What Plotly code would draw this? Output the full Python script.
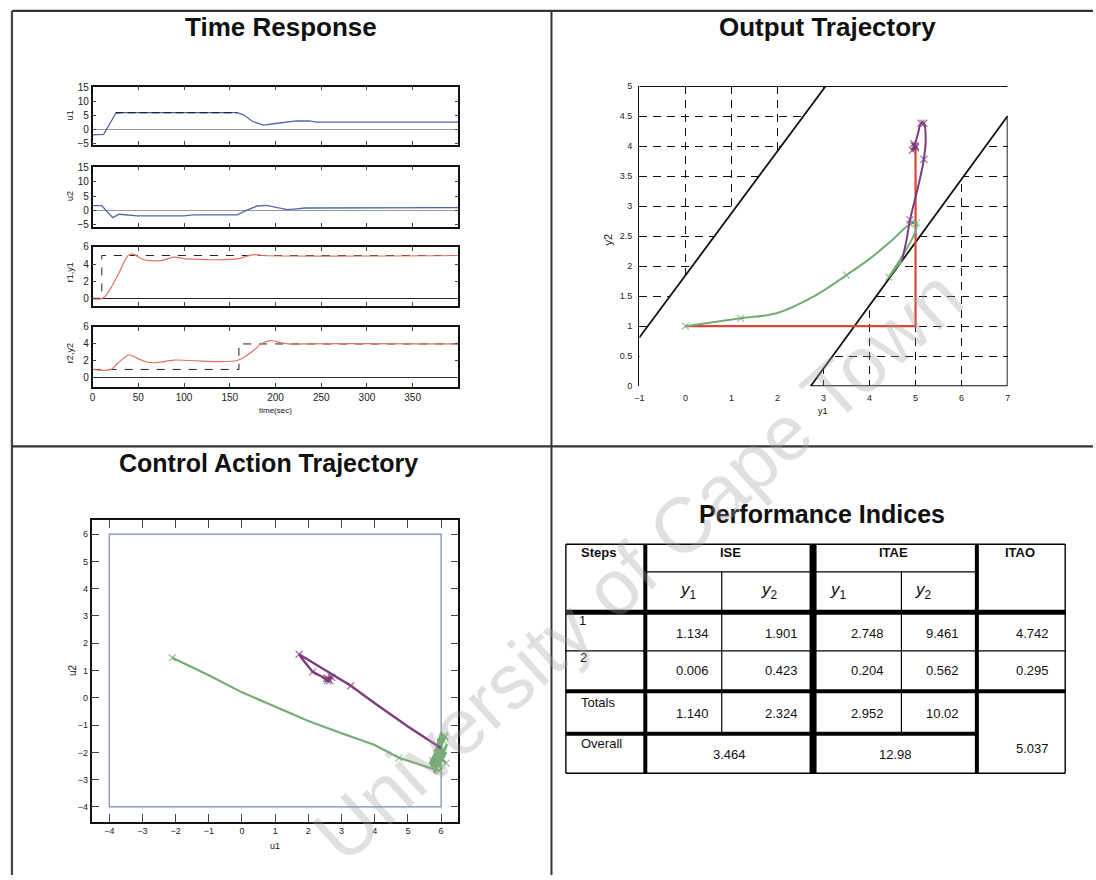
import plotly.graph_objects as go

W, H = 1096, 880
FONT = "Liberation Sans, Arial, sans-serif"


def px(x):
    return x / W


def py(y):
    return 1 - y / H


# ---------------- Time response (step test) ----------------
t_u1 = [0, 10, 12, 25, 30, 158, 165, 175, 187, 200, 212, 223, 237, 245, 400]
u1 = [-2.0, -2.0, -1.8, 5.6, 6.0, 6.0, 5.2, 2.8, 1.5, 2.1, 2.7, 3.0, 3.0, 2.6, 2.6]
t_u1_sat = [25, 158]
u1_sat = [6.0, 6.0]

t_u2 = [0, 10, 22, 29, 49, 100, 110, 158, 170, 180, 190, 204, 213, 223, 232, 400]
u2 = [1.6, 1.6, -2.6, -1.4, -2.0, -2.0, -1.6, -1.6, 0.2, 1.5, 1.7, 0.9, 0.2, 0.5, 0.8, 0.9]

t_y1 = [0, 11, 27, 38, 43, 56, 74, 89, 103, 158, 168, 177, 186, 400]
y1 = [0, 0, 2.6, 4.9, 5.2, 4.5, 4.4, 4.8, 4.6, 4.6, 4.9, 5.1, 5.0, 5.0]
t_r1 = [0, 10, 10, 400]
r1 = [0, 0, 5, 5]

t_y2 = [0, 20, 27, 40, 49, 60, 70, 89, 107, 158, 172, 186, 194, 208, 223, 230, 400]
y2 = [1, 1, 1.7, 2.7, 2.3, 1.85, 1.8, 2.1, 2.05, 2.05, 2.9, 4.1, 4.4, 4.1, 3.95, 4.0, 4.0]
t_r2 = [0, 160, 160, 400]
r2 = [1, 1, 4, 4]

# ---------------- Output trajectory (y1, y2 plane) ----------------
sp_y1 = [0, 5, 5]
sp_y2 = [1, 1, 4]
traj1_y1 = [0, 1.2, 2.0, 2.8, 3.5, 4.0, 4.5, 4.88, 5.02, 5.0, 4.7, 4.42, 4.55, 4.7]
traj1_y2 = [1.0, 1.13, 1.22, 1.5, 1.85, 2.12, 2.44, 2.7, 2.72, 2.58, 2.15, 1.82, 1.95, 2.08]
traj2_y1 = [4.7, 4.8, 4.88, 5.0, 5.1, 5.18, 5.22, 5.18, 5.12, 5.05, 4.97, 4.93, 5.0, 4.96, 5.0]
traj2_y2 = [2.08, 2.42, 2.77, 3.15, 3.47, 3.78, 4.1, 4.38, 4.38, 4.2, 4.0, 3.93, 3.97, 4.04, 4.0]
# output constraint boundaries (None splits the outline into separate strokes)
upper_bound_y1 = [7, -1, None, -1, 3.05]
upper_bound_y2 = [5, 5, None, 0.81, 5]
lower_bound_y1 = [2.72, 7, 7, 2.72]
lower_bound_y2 = [0, 4.5, 0, 0]
feasible_y1 = [-1, 3.05, 7, 7, 2.72, -1, -1]
feasible_y2 = [0.81, 5, 5, 4.5, 0, 0, 0.81]
y_ticks_out = [0, 0.5, 1, 1.5, 2, 2.5, 3, 3.5, 4, 4.5, 5]
y_ticktext_out = ["0", "0.5", "1", "1.5", "2", "2.5", "3", "3.5", "4", "4.5", "5"]

# ---------------- Control action trajectory (u1, u2 plane) ----------------
ctrl1_u1 = [-2.1, -1.0, 0, 1.0, 2.0, 3.0, 4.0, 4.73, 5.4, 5.95, 5.7, 6.0, 6.12, 5.72, 6.18,
            5.8, 6.1, 5.66, 6.16, 5.78, 6.05, 5.7, 6.14, 5.85, 6.02, 5.75, 6.1, 5.9, 6.0, 5.8,
            6.15, 5.95]
ctrl1_u2 = [1.47, 0.83, 0.2, -0.32, -0.85, -1.3, -1.73, -2.2, -2.45, -2.68, -2.45, -1.28, -1.45,
            -2.55, -1.7, -2.78, -1.38, -2.4, -2.0, -2.72, -1.55, -2.6, -1.85, -2.5, -1.32, -2.3,
            -2.15, -1.5, -2.65, -1.9, -2.4, -2.2]
ctrl2_u1 = [6.0, 5.0, 4.0, 3.28, 2.5, 1.95, 1.72, 1.8, 2.13, 2.4, 2.58, 2.7, 2.55, 2.65, 2.6]
ctrl2_u2 = [-1.85, -1.05, -0.2, 0.44, 1.02, 1.42, 1.6, 1.45, 0.95, 0.78, 0.63, 0.75, 0.72, 0.62, 0.7]
u_min, u_max = -4, 6

# ---------------- Performance indices ----------------
steps = ["1", "2", "Totals", "Overall"]
ise_y1 = [1.134, 0.006, 1.140]
ise_y2 = [1.901, 0.423, 2.324]
itae_y1 = [2.748, 0.204, 2.952]
itae_y2 = [9.461, 0.562, 10.02]
itao = [4.742, 0.295]
overall_ise = 3.464
overall_itae = 12.98
overall_itao = 5.037

BLUE = "#4f68a8"
TR_RED = "#e0705f"
RED = "#d9463a"
GREEN = "#74ad74"
PURPLE = "#7d3c7d"

fig = go.Figure()


def line_trace(x, y, color, width=1.2, xa="x", ya="y", dash=None, shape="linear", mode="lines",
               marker=None):
    fig.add_trace(go.Scatter(x=x, y=y, mode=mode, xaxis=xa, yaxis=ya, hoverinfo="skip",
                             line=dict(color=color, width=width, dash=dash, shape=shape),
                             marker=marker, connectgaps=False))


def xmarks(color, n, pick, size=7):
    # cross markers only on selected samples of a path
    sizes = [0] * n
    for i in pick:
        if i < n:
            sizes[i] = size
    return dict(symbol="x-thin", size=sizes, color=color, line=dict(color=color, width=1.3))


# time response traces
line_trace(t_u1, u1, BLUE, 1.3, "x", "y")
line_trace(t_u1_sat, u1_sat, "#1c2440", 1.4, "x", "y", dash="8px,4px")
line_trace(t_u2, u2, BLUE, 1.3, "x2", "y2")
line_trace(t_r1, r1, "#222", 1.0, "x3", "y3", dash="8px,8px")
line_trace(t_y1, y1, TR_RED, 1.2, "x3", "y3", shape="spline")
line_trace(t_r2, r2, "#222", 1.0, "x4", "y4", dash="8px,8px")
line_trace(t_y2, y2, TR_RED, 1.2, "x4", "y4", shape="spline")

# output trajectory: feasible band hides the grid, then boundaries and paths
fig.add_trace(go.Scatter(x=feasible_y1, y=feasible_y2, mode="lines", fill="toself",
                         fillcolor="white", line=dict(width=0), xaxis="x5", yaxis="y5",
                         hoverinfo="skip"))
line_trace(upper_bound_y1, upper_bound_y2, "#111", 1.8, "x5", "y5")
line_trace(lower_bound_y1, lower_bound_y2, "#111", 1.8, "x5", "y5")
line_trace(sp_y1, sp_y2, RED, 2.2, "x5", "y5")
line_trace(traj1_y1, traj1_y2, GREEN, 2.0, "x5", "y5", shape="spline", mode="lines+markers",
           marker=xmarks(GREEN, len(traj1_y1), pick=[0, 1, 4, 7, 8, 11]))
line_trace(traj2_y1, traj2_y2, PURPLE, 2.0, "x5", "y5", shape="spline", mode="lines+markers",
           marker=xmarks(PURPLE, len(traj2_y1), pick=[2, 5, 7, 8, 10, 11, 12, 13, 14]))

# control action trajectory
line_trace([u_min, u_max, u_max, u_min, u_min], [u_min, u_min, u_max, u_max, u_min],
           "#7a88b0", 1.2, "x6", "y6")
line_trace(ctrl1_u1, ctrl1_u2, GREEN, 2.2, "x6", "y6", mode="lines+markers",
           marker=xmarks(GREEN, len(ctrl1_u1), pick=[0, 7, 9, 12, 16, 20, 25, 30]))
line_trace(ctrl2_u1, ctrl2_u2, PURPLE, 2.4, "x6", "y6", mode="lines+markers",
           marker=xmarks(PURPLE, len(ctrl2_u1), pick=[3, 6, 8, 10, 11, 12, 13, 14]))

tick_font = dict(family=FONT, size=10, color="#222")
small_font = dict(family=FONT, size=9, color="#222")

tr_x = [px(88.3), px(456.7)]
tr_rows = [(81.7, 141), (162.7, 223.3), (244, 304), (325, 385.7)]
tr_ranges = [[-5.7, 15.3], [-5.7, 15.3], [-0.92, 6], [-1.05, 6]]
tr_ticks = [[-5, 0, 5, 10, 15], [-5, 0, 5, 10, 15], [0, 2, 4, 6], [0, 2, 4, 6]]
tr_zero = ["#9a9a9a", "#9a9a9a", "#222", "#333"]

layout_axes = {}
for i in range(4):
    sx = "xaxis" if i == 0 else f"xaxis{i + 1}"
    sy = "yaxis" if i == 0 else f"yaxis{i + 1}"
    top, bot = tr_rows[i]
    layout_axes[sx] = dict(domain=tr_x, range=[0, 400], anchor="y" if i == 0 else f"y{i + 1}",
                           tickvals=[0, 50, 100, 150, 200, 250, 300, 350], ticks="inside",
                           ticklen=4, showline=True, mirror="ticks", linecolor="#111",
                           linewidth=1.6, showgrid=False, zeroline=False,
                           showticklabels=(i == 3), tickfont=tick_font)
    layout_axes[sy] = dict(domain=[py(bot), py(top)], range=tr_ranges[i],
                           anchor="x" if i == 0 else f"x{i + 1}", tickvals=tr_ticks[i],
                           ticks="inside", ticklen=4, showline=True, mirror="ticks",
                           linecolor="#111", linewidth=1.6, showgrid=False, zeroline=True,
                           zerolinecolor=tr_zero[i], zerolinewidth=1.1, tickfont=tick_font)

layout_axes["xaxis5"] = dict(domain=[px(639), px(1010)], range=[-1, 7], anchor="y5",
                             tickvals=list(range(-1, 8)), ticks="", showline=False,
                             ticklabelstandoff=5, showgrid=True, gridcolor="#111",
                             gridwidth=1.1, griddash="8px,6px", zeroline=False,
                             tickfont=small_font)
layout_axes["yaxis5"] = dict(domain=[py(385), py(81)], range=[0, 5], anchor="x5",
                             tickvals=y_ticks_out, ticktext=y_ticktext_out, ticks="",
                             showline=True, linecolor="#111", linewidth=1.4, showgrid=True,
                             gridcolor="#111", gridwidth=1.1, griddash="8px,6px",
                             zeroline=False, tickfont=small_font, ticklabelstandoff=4)

layout_axes["xaxis6"] = dict(domain=[px(87.3), px(456.7)], range=[-4.53, 6.52], anchor="y6",
                             tickvals=list(range(-4, 7)), ticks="inside", ticklen=8,
                             showline=True, mirror="ticks", linecolor="#111", linewidth=1.5,
                             showgrid=False, zeroline=False, tickfont=small_font)
layout_axes["yaxis6"] = dict(domain=[py(826), py(521)], range=[-4.54, 6.5], anchor="x6",
                             tickvals=list(range(-4, 7)), ticks="inside", ticklen=8,
                             showline=True, mirror="ticks", linecolor="#111", linewidth=1.5,
                             showgrid=False, zeroline=False, tickfont=small_font)

shapes = []


def seg(x0, y0, x1, y1, w, color="black"):
    shapes.append(dict(type="line", xref="paper", yref="paper", x0=px(x0), y0=py(y0),
                       x1=px(x1), y1=py(y1), line=dict(color=color, width=w)))


# page frame
seg(7, 5, 1096, 5, 2.2, "#333")
seg(7, 5, 7, 880, 2.2, "#444")
seg(550.5, 5, 550.5, 880, 2.0, "#333")
seg(7, 446, 1096, 446, 2.2, "#333")

# performance table frame
TL, TR_, TT, TB = 565, 1068, 545, 777
seg(TL, TT, TR_, TT, 1.4)
seg(TL, TB, TR_, TB, 1.4)
seg(TL, TT, TL, TB, 1.4)
seg(TR_, TT, TR_, TB, 1.4)
seg(645, TT, 645, TB, 4)
seg(814, TT, 814, TB, 7)
seg(979, TT, 979, TB, 4)
seg(722, 573, 722, 736, 1.2)
seg(903, 573, 903, 736, 1.2)
seg(645, 573, 979, 573, 1.2)
seg(TL, 653, TR_, 653, 1.2)
seg(TL, 614, TR_, 614, 5)
seg(TL, 694, TR_, 694, 4)
seg(TL, 737, 979, 737, 4)

ann = []


def text(x, y, s, size=10, bold=False, angle=0, xanchor="center", color="#111"):
    ann.append(dict(x=px(x), y=py(y), xref="paper", yref="paper", text=f"<b>{s}</b>" if bold else s,
                    showarrow=False, textangle=angle, xanchor=xanchor, yanchor="middle",
                    font=dict(family=FONT, size=size, color=color)))


# panel titles
text(278, 21, "Time Response", 26, True)
text(829, 21, "Output Trajectory", 26, True)
text(265, 463, "Control Action Trajectory", 25, True)
text(823, 514, "Performance Indices", 25, True)

# axis titles
text(65, 111, "u1", 9, angle=-90)
text(65, 193, "u2", 9, angle=-90)
text(65, 270, "r1,y1", 9, angle=-90)
text(65, 352, "r2,y2", 9, angle=-90)
text(272, 410, "time(sec)", 8)
text(824, 410, "y1", 9)
text(607, 237, "y2", 11, angle=-90)
text(272, 851, "u1", 9)
text(68, 673, "u2", 10, angle=-90)


def fmt(v):
    return f"{v:.2f}" if v >= 10 else f"{v:.3f}"


# table header
text(578, 553, "Steps", 13, True, xanchor="left")
text(731, 553, "ISE", 13, True)
text(895, 553, "ITAE", 13, True)
text(1022, 553, "ITAO", 13, True)
sub = "<i>y</i><sub>{}</sub>"
text(689, 592, sub.format(1), 17)
text(770, 592, sub.format(2), 17)
text(840, 592, sub.format(1), 17)
text(925, 592, sub.format(2), 17)

# table body
label_pos = [(582, 622), (583, 660), (578, 705), (578, 747)]
for lab, (lx, ly) in zip(steps, label_pos):
    text(lx, ly, lab, 13, xanchor="left" if len(lab) > 1 else "center")
row_y = [635, 673, 716]
for i, ry in enumerate(row_y):
    text(693, ry, fmt(ise_y1[i]), 13)
    text(782, ry, fmt(ise_y2[i]), 13)
    text(869, ry, fmt(itae_y1[i]), 13)
    text(944, ry, fmt(itae_y2[i]), 13)
for i, ry in enumerate(row_y[:2]):
    text(1035, ry, fmt(itao[i]), 13)
text(730, 758, fmt(overall_ise), 13)
text(897, 758, fmt(overall_itae), 13)
text(1035, 752, fmt(overall_itao), 13)

# watermark
ann.append(dict(x=px(638), y=py(566), xref="paper", yref="paper", text="University of Cape Town",
                showarrow=False, textangle=-42, xanchor="center", yanchor="middle",
                font=dict(family=FONT, size=78, color="rgba(160,160,160,0.33)")))

fig.update_layout(width=W, height=H, margin=dict(l=0, r=0, t=0, b=0), showlegend=False,
                  paper_bgcolor="white", plot_bgcolor="white", shapes=shapes, annotations=ann,
                  **layout_axes)

fig.write_html("out.html")
